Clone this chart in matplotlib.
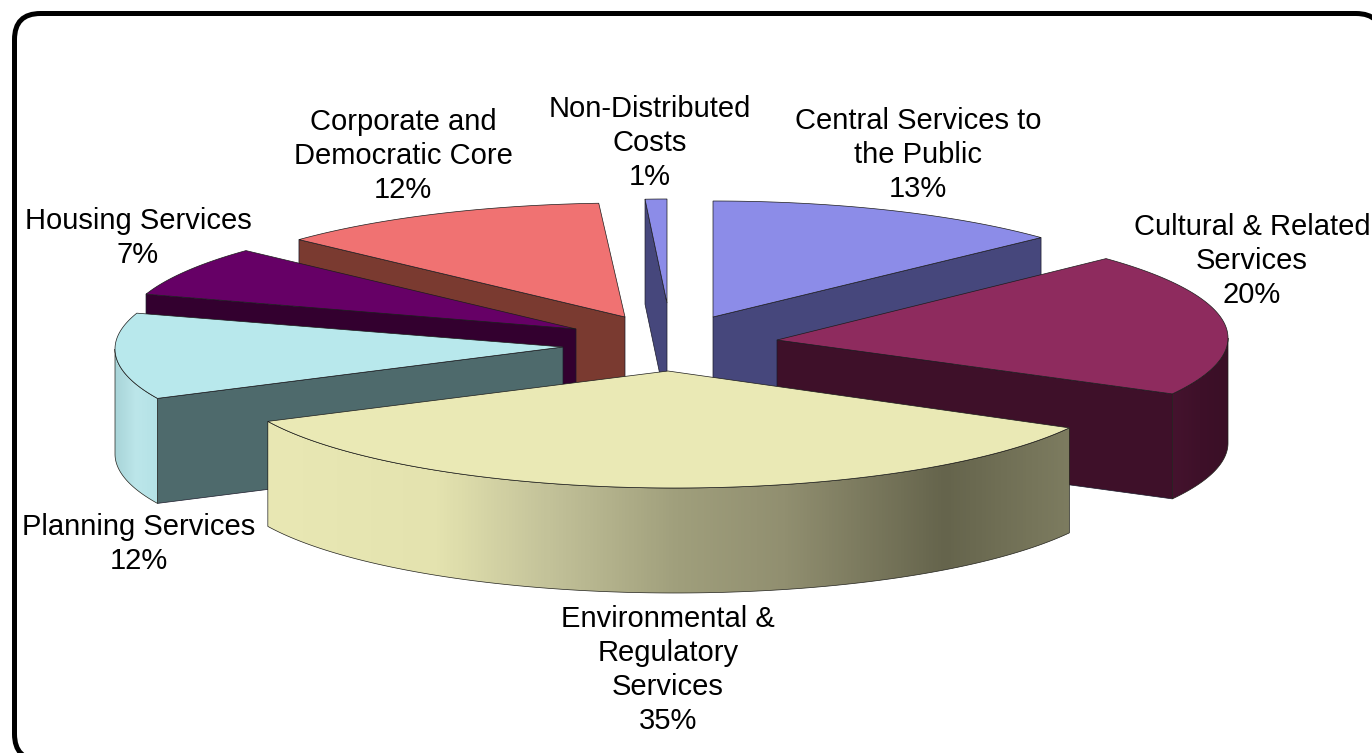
import numpy as np
import matplotlib
matplotlib.use('Agg')
import matplotlib.pyplot as plt
from matplotlib.colors import LinearSegmentedColormap
from matplotlib.patches import FancyBboxPatch, Polygon

plt.rcParams['font.family'] = ['Liberation Sans', 'DejaVu Sans']

# Expenditure split, clockwise from twelve o'clock
categories = ['Central Services to\nthe Public', 'Cultural & Related\nServices',
              'Environmental &\nRegulatory\nServices', 'Planning Services',
              'Housing Services', 'Corporate and\nDemocratic Core',
              'Non-Distributed\nCosts']
shares = [13, 20, 35, 12, 7, 12, 1]

top_colors = ['#8C8CE8', '#8E2B5E', '#EAE9B5', '#B8E8EC', '#660066', '#F07272', '#8C8CE8']
cut_colors = ['#46477C', '#3E1029', None, '#4E6A6C', '#33002F', '#7A3A30', '#46477C']

# Exploded tip of each slice, and the ellipse its rim is drawn on (pixels)
tips = [(713, 317), (777, 340), (668, 371), (563, 347), (576, 329), (625, 317), (667, 303)]
rim_centres = [(713, 317), (778, 338), (675, 372), (561, 349), (574, 330), (627, 319), (667, 303)]
rim_rx = [450, 450, 450, 446, 450, 450, 350]
rim_ry = [116, 116, 116, 116, 116, 116, 104]
DEPTH = 105

# Shading of the outer wall, left to right, for the slices that show one
wall_shades = {
    1: [(0, '#45132E'), (0.5, '#3E1029'), (1, '#3A0F26')],
    2: [(0, '#E9E8B4'), (0.21, '#E4E3AF'), (0.345, '#C4C39A'), (0.51, '#A09F7C'),
        (0.645, '#918F70'), (0.845, '#65644C'), (1, '#7D7C60')],
    3: [(0, '#A8D4D8'), (0.5, '#BCE6EA'), (1, '#B4E2E6')],
}

label_x = [918, 1252, 668, 139, 138, 403, 650]
label_top = [121, 227, 619, 527, 221, 122, 109]
LINE_STEP = 34

DRAW_ORDER = [6, 0, 5, 4, 1, 3, 2]


def rim_point(i, t):
    cx, cy = rim_centres[i]
    return cx + rim_rx[i] * np.sin(t), cy - rim_ry[i] * np.cos(t)


def draw_slice(ax, i, t0, t1, z):
    tip = tips[i]

    # radial cut face: right side slices show their end edge, left side their start edge
    if cut_colors[i] is not None:
        ex, ey = rim_point(i, t1 if t1 < np.pi else t0)
        cut = [tip, (ex, ey), (ex, ey + DEPTH), (tip[0], tip[1] + DEPTH)]
        ax.add_patch(Polygon(cut, closed=True, fc=cut_colors[i], ec='#1a1a2a', lw=0.5, zorder=z))

    # outer wall, only the part of the rim facing the viewer
    wt0, wt1 = max(t0, np.pi / 2), min(t1, 3 * np.pi / 2)
    if wt1 > wt0:
        wx, wy = rim_point(i, np.linspace(wt0, wt1, 120))
        outline = np.vstack([np.column_stack([wx, wy]),
                             np.column_stack([wx, wy + DEPTH])[::-1]])
        wall = Polygon(outline, closed=True, fc='none', ec='#20201a', lw=0.5, zorder=z + 0.2)
        ax.add_patch(wall)
        cmap = LinearSegmentedColormap.from_list('wall', wall_shades[i])
        im = ax.imshow(np.linspace(0, 1, 512)[None, :], cmap=cmap, aspect='auto', zorder=z + 0.1,
                       extent=(outline[:, 0].min(), outline[:, 0].max(),
                               outline[:, 1].max(), outline[:, 1].min()))
        im.set_clip_path(wall)

    rx, ry = rim_point(i, np.linspace(t0, t1, 120))
    top = np.vstack([[tip], np.column_stack([rx, ry])])
    ax.add_patch(Polygon(top, closed=True, fc=top_colors[i], ec='#1c1c1c', lw=0.5, zorder=z + 0.3))


fig = plt.figure(figsize=(13.72, 7.53), dpi=100)
ax = fig.add_axes([0, 0, 1, 1])
ax.axis('off')

ax.add_patch(FancyBboxPatch((14.5, 13.5), 1367.5, 746.5,
                            boxstyle='round,pad=0,rounding_size=26',
                            fc='white', ec='black', lw=3.6, zorder=0))

edges = np.radians(np.concatenate([[0], np.cumsum(shares)]) * 3.6)
for n, i in enumerate(DRAW_ORDER):
    draw_slice(ax, i, edges[i], edges[i + 1], n + 1)

for name, share, x, y in zip(categories, shares, label_x, label_top):
    lines = name.split('\n') + [f'{share}%']
    for k, line in enumerate(lines):
        ax.text(x, y + k * LINE_STEP, line, ha='center', va='center',
                fontsize=21, color='black', zorder=20, clip_on=False)

ax.set_xlim(0, 1372)
ax.set_ylim(753, 0)
fig.savefig('out.png', dpi=100)
